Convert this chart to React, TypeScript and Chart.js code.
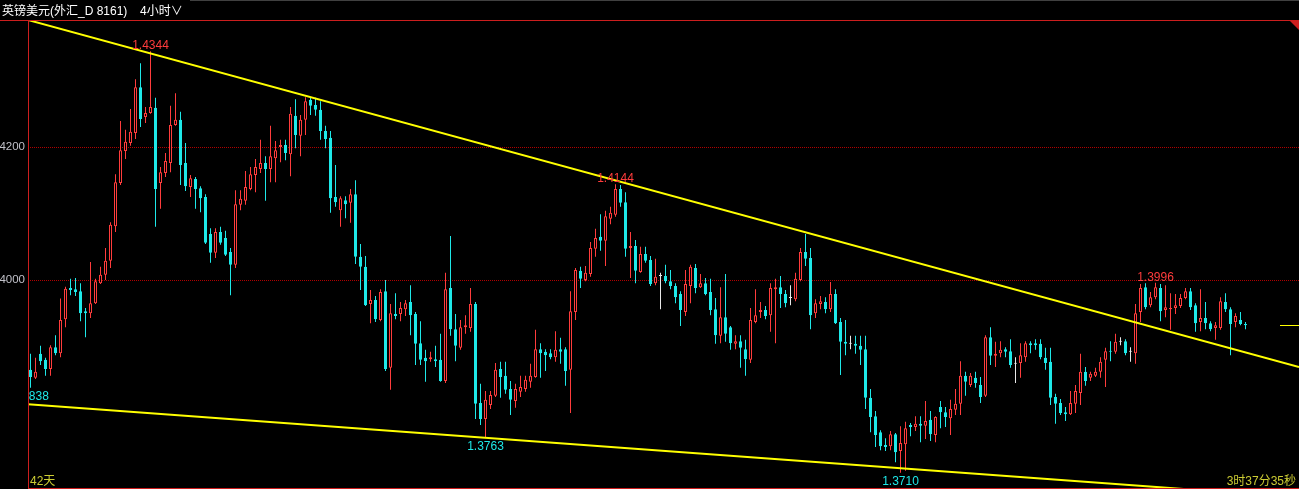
import React, { useEffect, useRef } from 'react';
import { Chart, registerables } from 'chart.js';

Chart.register(...registerables);

// ---- OHLC data (GBP/USD 4h), one entry per bar ----
const openP = [
  1.3865,1.3853,1.3889,1.3880,1.3866,1.3899,1.3890,1.3941,1.3988,1.3986,
  1.3983,1.3953,1.3950,1.3965,1.3995,1.4008,1.4029,1.4081,1.4146,1.4194,
  1.4206,1.4221,1.4290,1.4245,1.4251,1.4259,1.4146,1.4161,1.4176,1.4233,
  1.4241,1.4176,1.4140,1.4152,1.4138,1.4125,1.4069,1.4041,1.4072,1.4063,
  1.4042,1.4023,1.4113,1.4119,1.4137,1.4158,1.4167,1.4176,1.4167,1.4183,
  1.4200,1.4203,1.4189,1.4247,1.4217,1.4241,1.4271,1.4263,1.4256,1.4224,
  1.4214,1.4125,1.4105,1.4120,1.4116,1.4129,1.4035,1.4020,1.3964,1.3970,
  1.3940,1.3983,1.3868,1.3949,1.3949,1.3956,1.3967,1.3949,1.3905,1.3883,
  1.3881,1.3881,1.3880,1.3848,1.3988,1.3926,1.3898,1.3929,1.3928,1.3964,
  1.3815,1.3791,1.3812,1.3826,1.3866,1.3856,1.3836,1.3818,1.3832,1.3836,
  1.3847,1.3854,1.3896,1.3892,1.3890,1.3884,1.3896,1.3896,1.3865,1.3952,
  1.4014,1.4000,1.4009,1.4047,1.4065,1.4059,1.4092,1.4098,1.4137,1.4117,
  1.4048,1.4051,1.4012,1.4039,1.4030,1.3995,1.4006,1.4006,1.3998,1.3991,
  1.3979,1.3952,1.3991,1.4018,1.3989,1.3995,1.3982,1.3956,1.3916,1.3944,
  1.3929,1.3904,1.3908,1.3896,1.3880,1.3937,1.3952,1.3955,1.3947,1.3986,
  1.3989,1.3979,1.3973,1.3971,1.4000,1.4042,1.4033,1.3950,1.3964,1.3967,
  1.3956,1.3979,1.3937,1.3907,1.3904,1.3904,1.3901,1.3896,1.3823,1.3795,
  1.3771,1.3752,1.3750,1.3768,1.3743,1.3753,1.3782,1.3779,1.3784,1.3781,
  1.3790,1.3767,1.3809,1.3801,1.3792,1.3805,1.3814,1.3856,1.3842,1.3853,
  1.3842,1.3826,1.3914,1.3886,1.3890,1.3896,1.3893,1.3874,1.3875,1.3884,
  1.3905,1.3905,1.3904,1.3883,1.3877,1.3824,1.3815,1.3801,1.3798,1.3814,
  1.3830,1.3862,1.3853,1.3856,1.3862,1.3880,1.3893,1.3892,1.3907,1.3908,
  1.3892,1.3890,1.3952,1.3989,1.3962,1.3974,1.3988,1.3955,1.3956,1.3958,
  1.3961,1.3973,1.3983,1.3962,1.3937,1.3943,1.3935,1.3928,1.3928,1.3967,
  1.3956,1.3937,1.3940,1.3934,
];

const highP = [
  1.3889,1.3883,1.3901,1.3883,1.3902,1.3917,1.3972,1.3990,1.4002,1.4003,
  1.3995,1.3958,1.4027,1.4002,1.4020,1.4048,1.4087,1.4159,1.4239,1.4226,
  1.4257,1.4302,1.4326,1.4260,1.4344,1.4274,1.4170,1.4191,1.4262,1.4281,
  1.4253,1.4206,1.4158,1.4155,1.4141,1.4129,1.4078,1.4078,1.4080,1.4074,
  1.4048,1.4135,1.4135,1.4164,1.4170,1.4182,1.4211,1.4186,1.4232,1.4209,
  1.4211,1.4211,1.4260,1.4272,1.4248,1.4275,1.4274,1.4274,1.4269,1.4232,
  1.4224,1.4173,1.4126,1.4126,1.4137,1.4150,1.4054,1.4036,1.3985,1.3976,
  1.3986,1.4000,1.3964,1.3980,1.3967,1.3970,1.3992,1.3952,1.3938,1.3895,
  1.3892,1.3901,1.3919,1.4011,1.4066,1.3949,1.3940,1.3947,1.3988,1.3967,
  1.3844,1.3833,1.3833,1.3875,1.3877,1.3877,1.3848,1.3844,1.3856,1.3856,
  1.3874,1.3925,1.3905,1.3896,1.3896,1.3923,1.3913,1.3899,1.3983,1.4018,
  1.4020,1.4021,1.4057,1.4077,1.4099,1.4104,1.4110,1.4144,1.4143,1.4132,
  1.4072,1.4060,1.4050,1.4050,1.4036,1.4032,1.4011,1.4023,1.4015,1.3995,
  1.3983,1.4015,1.4023,1.4024,1.4009,1.4003,1.4002,1.3973,1.3989,1.4009,
  1.3931,1.3917,1.3917,1.3910,1.3958,1.3986,1.3967,1.3961,1.3995,1.4002,
  1.4006,1.3985,1.3992,1.4011,1.4048,1.4069,1.4048,1.3971,1.3976,1.3974,
  1.3997,1.3986,1.3943,1.3940,1.3916,1.3916,1.3916,1.3916,1.3836,1.3803,
  1.3774,1.3762,1.3773,1.3770,1.3780,1.3787,1.3785,1.3795,1.3795,1.3818,
  1.3803,1.3795,1.3818,1.3809,1.3820,1.3836,1.3878,1.3862,1.3860,1.3862,
  1.3854,1.3917,1.3929,1.3907,1.3908,1.3899,1.3911,1.3884,1.3905,1.3908,
  1.3908,1.3911,1.3911,1.3898,1.3898,1.3829,1.3821,1.3809,1.3833,1.3842,
  1.3889,1.3869,1.3862,1.3868,1.3884,1.3898,1.3908,1.3919,1.3914,1.3911,
  1.3899,1.3964,1.3994,1.3995,1.3982,1.3996,1.3994,1.3992,1.3980,1.3979,
  1.3979,1.3988,1.3988,1.3965,1.3986,1.3967,1.3938,1.3937,1.3974,1.3980,
  1.3959,1.3950,1.3952,1.3937,
];

const lowP = [
  1.3838,1.3851,1.3872,1.3856,1.3856,1.3887,1.3884,1.3929,1.3977,1.3976,
  1.3938,1.3914,1.3943,1.3964,1.3994,1.4000,1.4018,1.4072,1.4143,1.4182,
  1.4202,1.4212,1.4230,1.4236,1.4250,1.4080,1.4107,1.4155,1.4162,1.4232,
  1.4143,1.4134,1.4125,1.4107,1.4102,1.4054,1.4026,1.4033,1.4053,1.4036,
  1.3977,1.4018,1.4105,1.4113,1.4135,1.4132,1.4161,1.4119,1.4147,1.4147,
  1.4177,1.4180,1.4156,1.4198,1.4186,1.4218,1.4248,1.4247,1.4211,1.4198,
  1.4101,1.4110,1.4080,1.4093,1.4086,1.4024,1.3985,1.3961,1.3935,1.3937,
  1.3938,1.3863,1.3835,1.3941,1.3938,1.3946,1.3917,1.3872,1.3872,1.3847,
  1.3877,1.3869,1.3847,1.3845,1.3916,1.3878,1.3895,1.3919,1.3922,1.3791,
  1.3782,1.3763,1.3806,1.3824,1.3823,1.3829,1.3797,1.3808,1.3824,1.3832,
  1.3838,1.3853,1.3853,1.3863,1.3881,1.3877,1.3874,1.3841,1.3800,1.3940,
  1.3988,1.3998,1.4005,1.4035,1.4044,1.4021,1.4084,1.4095,1.4110,1.4035,
  1.4003,1.3995,1.4011,1.4026,1.3991,1.3992,1.3956,1.3995,1.3986,1.3965,
  1.3931,1.3946,1.3965,1.3980,1.3988,1.3977,1.3947,1.3904,1.3905,1.3907,
  1.3895,1.3896,1.3868,1.3856,1.3875,1.3935,1.3943,1.3941,1.3922,1.3905,
  1.3958,1.3959,1.3962,1.3968,1.3998,1.4021,1.3926,1.3943,1.3956,1.3950,
  1.3952,1.3934,1.3857,1.3887,1.3896,1.3889,1.3872,1.3806,1.3771,1.3749,
  1.3744,1.3743,1.3744,1.3726,1.3710,1.3713,1.3765,1.3773,1.3756,1.3761,
  1.3758,1.3756,1.3777,1.3779,1.3767,1.3797,1.3797,1.3826,1.3839,1.3838,
  1.3815,1.3824,1.3872,1.3869,1.3884,1.3884,1.3868,1.3845,1.3853,1.3877,
  1.3890,1.3895,1.3881,1.3865,1.3812,1.3784,1.3797,1.3788,1.3797,1.3800,
  1.3812,1.3841,1.3848,1.3854,1.3853,1.3839,1.3878,1.3889,1.3902,1.3887,
  1.3877,1.3874,1.3937,1.3956,1.3959,1.3971,1.3938,1.3944,1.3925,1.3949,
  1.3958,1.3971,1.3955,1.3922,1.3923,1.3926,1.3923,1.3910,1.3925,1.3952,
  1.3887,1.3929,1.3932,1.3926,
];

const closeP = [
  1.3854,1.3862,1.3878,1.3866,1.3899,1.3890,1.3940,1.3987,1.3985,1.3982,
  1.3950,1.3950,1.3965,1.3998,1.4008,1.4029,1.4083,1.4147,1.4195,1.4208,
  1.4223,1.4290,1.4242,1.4251,1.4260,1.4137,1.4162,1.4179,1.4233,1.4241,
  1.4173,1.4141,1.4153,1.4137,1.4123,1.4056,1.4041,1.4072,1.4056,1.4038,
  1.4023,1.4114,1.4122,1.4140,1.4159,1.4170,1.4176,1.4167,1.4186,1.4195,
  1.4203,1.4191,1.4250,1.4218,1.4241,1.4269,1.4262,1.4256,1.4224,1.4212,
  1.4123,1.4117,1.4123,1.4114,1.4129,1.4035,1.4020,1.3962,1.3970,1.3941,
  1.3982,1.3866,1.3950,1.3946,1.3958,1.3965,1.3947,1.3904,1.3880,1.3878,
  1.3884,1.3878,1.3848,1.3986,1.3926,1.3901,1.3929,1.3932,1.3964,1.3814,
  1.3791,1.3820,1.3827,1.3865,1.3854,1.3835,1.3820,1.3836,1.3839,1.3850,
  1.3856,1.3896,1.3890,1.3887,1.3884,1.3895,1.3892,1.3863,1.3953,1.4015,
  1.4002,1.4011,1.4048,1.4063,1.4059,1.4096,1.4101,1.4137,1.4116,1.4047,
  1.4051,1.4014,1.4039,1.4029,1.3994,1.4005,1.4006,1.3998,1.3991,1.3974,
  1.3955,1.3994,1.4020,1.3988,1.3995,1.3979,1.3955,1.3917,1.3944,1.3919,
  1.3905,1.3908,1.3898,1.3881,1.3940,1.3947,1.3955,1.3946,1.3988,1.3989,
  1.3979,1.3965,1.3973,1.4002,1.4042,1.4032,1.3947,1.3965,1.3968,1.3956,
  1.3979,1.3935,1.3907,1.3904,1.3904,1.3901,1.3895,1.3823,1.3794,1.3767,
  1.3750,1.3749,1.3768,1.3741,1.3755,1.3777,1.3779,1.3784,1.3781,1.3788,
  1.3768,1.3794,1.3801,1.3794,1.3806,1.3814,1.3856,1.3847,1.3856,1.3845,
  1.3824,1.3914,1.3886,1.3889,1.3895,1.3892,1.3872,1.3874,1.3887,1.3905,
  1.3902,1.3902,1.3884,1.3875,1.3823,1.3814,1.3800,1.3798,1.3815,1.3833,
  1.3862,1.3848,1.3859,1.3862,1.3877,1.3893,1.3892,1.3907,1.3907,1.3890,
  1.3892,1.3950,1.3988,1.3959,1.3974,1.3989,1.3953,1.3959,1.3958,1.3962,
  1.3973,1.3983,1.3959,1.3935,1.3943,1.3935,1.3926,1.3932,1.3968,1.3956,
  1.3934,1.3946,1.3934,1.3932,
];

// axis range and ticks
const yTickValues = [1.40, 1.42];
const yMin = 1.36872;
const yMax = 1.4391;
const xMin = -0.5;
const xMax = 253.7;

// trend lines: [bar index, price]
const upperTrendX = [-0.5, 253.7];
const upperTrendY = [1.4391, 1.3869];
const lowerTrendX = [-0.5, 253.7];
const lowerTrendY = [1.3813, 1.3673];

// marked extremes (bar indices)
const highMarks = [24, 117, 225];
const lowMarks = [0, 91, 174];

// texts
const titleText = '英镑美元(外汇_D 8161)';
const periodText = '4小时∨';
const leftFooter = '42天';
const rightFooter = '3时37分35秒';

// colours
const UP = '#ff3c3c';
const DOWN = '#1ee8e8';
const DOJI = '#e8e8e8';
const YELLOW = '#ffff00';
const FRAME = '#cc1e1e';
const GRID = '#b00000';
const FOOT = '#cccc33';

const FONT_LATIN = '"Liberation Sans", "Noto Sans CJK SC", sans-serif';

const overlayPlugin = {
  id: 'overlay',
  afterDraw(chart: any) {
    const { ctx, chartArea: a, scales } = chart;
    const xs = scales.x;
    const ys = scales.y;
    const W = chart.width;
    ctx.save();

    // top window edge
    ctx.fillStyle = '#404040';
    ctx.fillRect(190, 0, W - 190, 1);

    // title
    ctx.fillStyle = '#ffffff';
    ctx.font = '12px ' + FONT_LATIN;
    ctx.textAlign = 'left';
    ctx.textBaseline = 'alphabetic';
    ctx.fillText(titleText, 2, 15);
    ctx.fillText(periodText, 140, 15);

    // frame
    ctx.fillStyle = FRAME;
    ctx.fillRect(0, a.top, W, 1);
    ctx.fillRect(a.left, a.top, 1, a.bottom - a.top + 1);
    ctx.fillRect(a.left, a.bottom, W - a.left, 1);
    ctx.beginPath();
    ctx.moveTo(W - 10, a.top);
    ctx.lineTo(W, a.top);
    ctx.lineTo(W, a.top + 10);
    ctx.closePath();
    ctx.fill();

    // extreme labels, clipped to plot
    ctx.save();
    ctx.beginPath();
    ctx.rect(a.left + 1, a.top + 1, a.right - a.left - 1, a.bottom - a.top - 1);
    ctx.clip();
    ctx.font = '12px ' + FONT_LATIN;
    ctx.textAlign = 'center';
    ctx.fillStyle = UP;
    ctx.textBaseline = 'alphabetic';
    highMarks.forEach((i) => {
      ctx.fillText(highP[i].toFixed(4), xs.getPixelForValue(i), ys.getPixelForValue(highP[i]) - 2);
    });
    ctx.fillStyle = DOWN;
    ctx.textBaseline = 'top';
    lowMarks.forEach((i) => {
      ctx.fillText(lowP[i].toFixed(4), xs.getPixelForValue(i), ys.getPixelForValue(lowP[i]) + 3);
    });
    ctx.restore();

    // current price marker
    const yc = Math.round(ys.getPixelForValue(closeP[closeP.length - 1]));
    ctx.fillStyle = YELLOW;
    ctx.fillRect(a.right - 19, yc, 19, 1);

    // footers
    ctx.fillStyle = FOOT;
    ctx.font = '12px ' + FONT_LATIN;
    ctx.textBaseline = 'alphabetic';
    ctx.textAlign = 'left';
    ctx.fillText(leftFooter, a.left + 2, a.bottom - 3);
    ctx.textAlign = 'right';
    ctx.fillText(rightFooter, W - 3, a.bottom - 3);

    ctx.restore();
  },
};

export default function App() {
  const ref = useRef<HTMLCanvasElement>(null);

  useEffect(() => {
    document.body.style.margin = '0';
    document.body.style.background = '#000';
    const idx = openP.map((_, i) => i);
    const dir = idx.map((i) => Math.sign(closeP[i] - openP[i]));
    const wicks = idx.map((i) => ({ x: i, y: [lowP[i], highP[i]] }));
    const bodies = idx.map((i) => ({ x: i, y: [openP[i], closeP[i]] }));
    const strokeCol = dir.map((d) => (d > 0 ? UP : d < 0 ? DOWN : DOJI));
    const fillCol = dir.map((d) => (d > 0 ? '#000000' : d < 0 ? DOWN : DOJI));
    const upper = upperTrendX.map((x, k) => ({ x, y: upperTrendY[k] }));
    const lower = lowerTrendX.map((x, k) => ({ x, y: lowerTrendY[k] }));

    const chart = new Chart(ref.current as HTMLCanvasElement, {
      type: 'bar',
      data: {
        datasets: [
          {
            type: 'line',
            data: upper,
            borderColor: YELLOW,
            borderWidth: 2,
            pointRadius: 0,
            order: 0,
          } as any,
          {
            type: 'line',
            data: lower,
            borderColor: YELLOW,
            borderWidth: 2,
            pointRadius: 0,
            order: 0,
          } as any,
          {
            type: 'bar',
            data: bodies,
            backgroundColor: fillCol,
            borderColor: strokeCol,
            borderWidth: 1,
            borderSkipped: false,
            grouped: false,
            barPercentage: 1,
            categoryPercentage: 1,
            maxBarThickness: 3,
            minBarLength: 1,
            inflateAmount: 0,
            order: 1,
          } as any,
          {
            type: 'bar',
            data: wicks,
            backgroundColor: strokeCol,
            borderWidth: 0,
            grouped: false,
            barPercentage: 1,
            categoryPercentage: 1,
            maxBarThickness: 1,
            minBarLength: 1,
            inflateAmount: 0,
            order: 2,
          } as any,
        ],
      },
      options: {
        responsive: false,
        maintainAspectRatio: false,
        animation: false,
        events: [],
        layout: { padding: { top: 20, bottom: 1, left: 0, right: 0 } },
        plugins: {
          legend: { display: false },
          tooltip: { enabled: false },
          title: { display: false },
        },
        scales: {
          x: {
            type: 'linear',
            min: xMin,
            max: xMax,
            display: false,
            offset: false,
            grid: { display: false },
          },
          y: {
            type: 'linear',
            position: 'left',
            min: yMin,
            max: yMax,
            afterBuildTicks: (s: any) => {
              s.ticks = yTickValues.map((v) => ({ value: v }));
            },
            afterFit: (s: any) => {
              s.width = 28;
              s.paddingTop = 0;
              s.paddingBottom = 0;
            },
            ticks: {
              callback: (v: any) => Number(v).toFixed(4),
              color: '#c0c0c8',
              font: { size: 11.5, family: FONT_LATIN },
              padding: 3,
            },
            grid: { color: GRID, lineWidth: 1, drawTicks: false },
            border: { display: false, dash: [1, 1] },
          },
        },
      } as any,
      plugins: [overlayPlugin],
    });
    return () => chart.destroy();
  }, []);

  return (
    <div style={{ position: 'absolute', left: 0, top: 0, width: 1299, height: 489, background: '#000' }}>
      <canvas ref={ref} width={1299} height={489} style={{ display: 'block', width: 1299, height: 489 }} />
    </div>
  );
}
